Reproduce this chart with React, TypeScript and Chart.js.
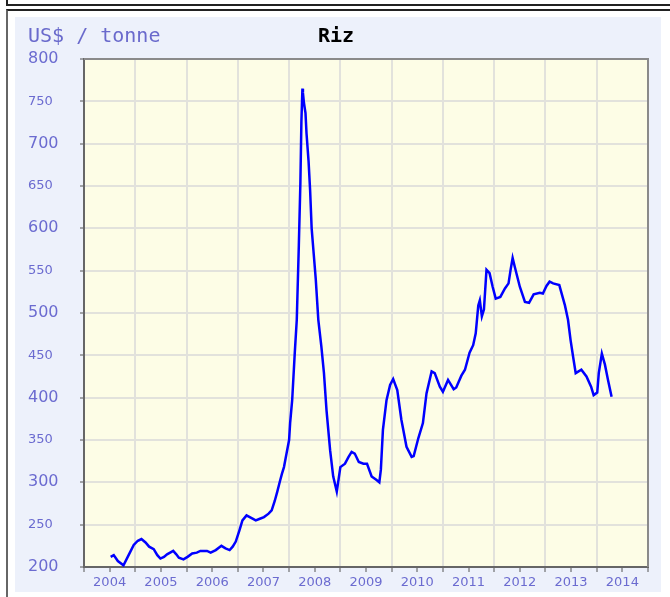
import React, { useEffect, useRef } from "react";
import { Chart, registerables } from "chart.js";

Chart.register(...registerables);

const dates: number[] = [
  2004.52, 2004.58, 2004.66, 2004.77, 2004.87, 2004.97, 2005.05, 2005.12, 2005.2, 2005.27,
  2005.36, 2005.43, 2005.49, 2005.56, 2005.62, 2005.68, 2005.74, 2005.8, 2005.85, 2005.94,
  2006.02, 2006.11, 2006.2, 2006.27, 2006.4, 2006.47, 2006.57, 2006.68, 2006.76, 2006.84,
  2006.9, 2006.96, 2007.03, 2007.09, 2007.17, 2007.26, 2007.35, 2007.43, 2007.51, 2007.6,
  2007.66, 2007.72, 2007.77, 2007.82, 2007.86, 2007.9, 2007.95, 2008.0, 2008.02, 2008.06,
  2008.11, 2008.15, 2008.19, 2008.22, 2008.24, 2008.26, 2008.27, 2008.29, 2008.32, 2008.34,
  2008.38, 2008.41, 2008.44, 2008.48, 2008.52, 2008.57, 2008.63, 2008.68, 2008.73, 2008.8,
  2008.86, 2008.93, 2009.0, 2009.09, 2009.16, 2009.22, 2009.28, 2009.36, 2009.45, 2009.52,
  2009.61, 2009.7, 2009.76, 2009.79, 2009.83, 2009.9, 2009.97, 2010.03, 2010.11, 2010.19,
  2010.29, 2010.39, 2010.43, 2010.52, 2010.61, 2010.68, 2010.78, 2010.84, 2010.94, 2011.0,
  2011.1, 2011.21, 2011.26, 2011.36, 2011.43, 2011.52, 2011.59, 2011.64, 2011.69, 2011.72,
  2011.76, 2011.8, 2011.85, 2011.91, 2011.97, 2012.03, 2012.12, 2012.21, 2012.28, 2012.32,
  2012.36, 2012.4, 2012.5, 2012.6, 2012.68, 2012.77, 2012.89, 2012.95, 2013.02, 2013.08,
  2013.15, 2013.27, 2013.38, 2013.44, 2013.49, 2013.54, 2013.59, 2013.7, 2013.8, 2013.89,
  2013.94, 2014.01, 2014.04, 2014.1, 2014.16, 2014.22, 2014.29,
];

const prices: number[] = [
  212, 214, 207, 202, 214, 226, 231, 233, 229, 224,
  221, 214, 210, 212, 215, 217, 219, 215, 211, 209,
  212, 216, 217, 219, 219, 217, 220, 225, 222, 220,
  224, 230, 243, 255, 261, 258, 255, 257, 259, 263,
  267, 278, 289, 301, 310, 318, 334, 350, 370, 397,
  452, 492, 580, 653, 726, 765, 760, 748, 736, 712,
  679, 645, 600, 570, 540, 492, 460, 429, 385, 338,
  307, 289, 318, 322, 330, 336, 334, 324, 322, 322,
  307, 303, 300, 315, 362, 397, 415, 422, 409, 374,
  342, 330, 331, 352, 370, 405, 431, 429, 413, 407,
  421, 410, 412, 426, 433, 453, 462, 476, 509, 515,
  496, 504, 551, 547, 531, 517, 519, 529, 535, 551,
  565, 555, 531, 513, 512, 522, 524, 523, 532, 537,
  535, 533, 509, 492, 468, 448, 429, 433, 425, 413,
  403, 406, 429, 452, 439, 421, 401,
];

const yearTicks: number[] = [
  2004, 2004.5, 2005, 2005.5, 2006, 2006.5, 2007, 2007.5, 2008, 2008.5, 2009, 2009.5,
  2010, 2010.5, 2011, 2011.5, 2012, 2012.5, 2013, 2013.5, 2014, 2014.5, 2015,
];

const yMin = 200;
const yMax = 800;
const yStep = 50;

const unitLabel = "US$ / tonne";
const titleLabel = "Riz";

const plotFrame = {
  id: "plotFrame",
  beforeDraw(chart: any) {
    const { ctx, chartArea: a } = chart;
    ctx.save();
    ctx.fillStyle = "#fdfde6";
    ctx.fillRect(a.left, a.top, a.right - a.left, a.bottom - a.top);
    ctx.restore();
  },
  afterDraw(chart: any) {
    const { ctx, chartArea: a } = chart;
    ctx.save();
    ctx.strokeStyle = "#8a8a8a";
    ctx.lineWidth = 2;
    ctx.beginPath();
    ctx.moveTo(a.left, a.top);
    ctx.lineTo(a.right, a.top);
    ctx.lineTo(a.right, a.bottom);
    ctx.stroke();
    ctx.restore();
  },
};

function RiceChart() {
  const ref = useRef<HTMLCanvasElement | null>(null);
  useEffect(() => {
    if (!ref.current) return;
    const points = dates.map((d, i) => ({ x: d, y: prices[i] }));
    const chart = new Chart(ref.current, {
      type: "line",
      data: {
        datasets: [
          {
            data: points,
            borderColor: "#0000ff",
            borderWidth: 2.5,
            pointRadius: 0,
            tension: 0,
            fill: false,
          },
        ],
      },
      options: {
        responsive: false,
        animation: false,
        devicePixelRatio: 1,
        layout: { padding: { left: 13, top: 42, right: 13, bottom: 0 } },
        plugins: {
          legend: { display: false },
          tooltip: { enabled: false },
          title: { display: false },
        },
        scales: {
          x: {
            type: "linear",
            min: 2004,
            max: 2015,
            afterBuildTicks: (scale: any) => {
              scale.ticks = yearTicks.map((v) => ({ value: v }));
            },
            afterFit: (scale: any) => {
              scale.height = 25;
            },
            grid: {
              color: (c: any) => (c.tick && c.tick.value % 1 === 0 ? "#e2e2dc" : "rgba(0,0,0,0)"),
              lineWidth: 2,
              tickColor: "#555",
              tickWidth: 1,
              tickLength: 5,
            },
            border: { color: "#666", width: 2 },
            ticks: {
              autoSkip: false,
              maxRotation: 0,
              minRotation: 0,
              padding: 3,
              color: "#6b6bd0",
              font: { family: "DejaVu Sans", size: 13 },
              callback: (value: any) => {
                const v = Number(value);
                return v % 1 !== 0 ? String(Math.floor(v)) : "";
              },
            },
          },
          y: {
            min: yMin,
            max: yMax,
            afterFit: (scale: any) => {
              scale.width = 56;
            },
            grid: {
              color: "#e2e2dc",
              lineWidth: 2,
              tickColor: "#555",
              tickWidth: 1,
              tickLength: 4,
            },
            border: { color: "#666", width: 2 },
            ticks: {
              stepSize: yStep,
              crossAlign: "far",
              color: "#6b6bd0",
              font: (c: any) => ({
                family: "DejaVu Sans",
                size: c.tick && c.tick.value % 100 === 0 ? 16 : 13,
              }),
            },
          },
        },
      },
      plugins: [plotFrame],
    } as any);
    return () => chart.destroy();
  }, []);
  return <canvas ref={ref} width={646} height={575} style={{ display: "block" }} />;
}

export default function App() {
  return (
    <div
      style={{
        position: "fixed",
        left: 0,
        top: 0,
        width: 670,
        height: 597,
        overflow: "hidden",
        background: "#ffffff",
      }}
    >
      <div
        style={{
          position: "absolute",
          left: 6,
          top: -21,
          width: 720,
          height: 23,
          border: "2px solid #222",
        }}
      />
      <div
        style={{
          position: "absolute",
          left: 6,
          top: 9,
          width: 720,
          height: 700,
          borderTop: "2px solid #222",
          borderLeft: "2px solid #666",
        }}
      />
      <div
        style={{
          position: "absolute",
          left: 15,
          top: 17,
          width: 646,
          height: 575,
          background: "#edf1fb",
        }}
      >
        <RiceChart />
        <div
          style={{
            position: "absolute",
            left: 13,
            top: 8,
            font: "20px 'DejaVu Sans Mono'",
            lineHeight: "20px",
            color: "#6a6acc",
            whiteSpace: "pre",
          }}
        >
          {unitLabel}
        </div>
        <div
          style={{
            position: "absolute",
            left: 303,
            top: 8,
            font: "bold 20px 'DejaVu Sans Mono'",
            lineHeight: "20px",
            color: "#000",
            whiteSpace: "pre",
          }}
        >
          {titleLabel}
        </div>
      </div>
    </div>
  );
}
